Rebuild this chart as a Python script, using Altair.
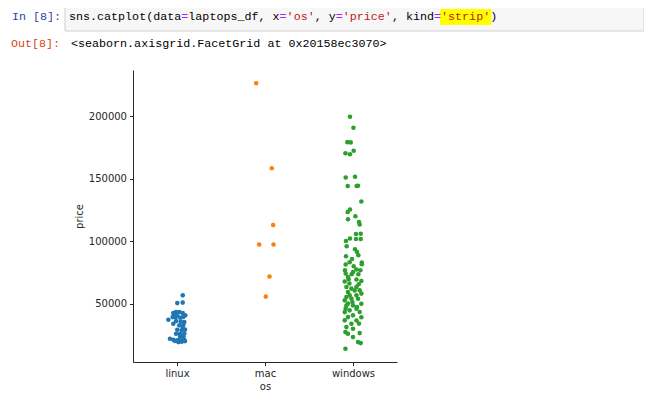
import altair as alt
import pandas as pd

# ---------------- data ----------------
OS_ORDER = ["linux", "mac", "windows"]
OS_COLORS = ["#1f77b4", "#ff7f0e", "#2ca02c"]

linux_price = [56700, 50500, 50900, 42500, 43300, 43300, 42500, 40700, 39300, 39300,
               39000, 39500, 37200, 36100, 35900, 34000, 32700, 33200, 29200, 28700,
               29300, 26000, 25800, 26200, 22000, 21200, 20700, 20600, 21300, 19300,
               19600, 20100, 20200, 23300, 23900, 31300, 40600, 35300]
linux_jitter = [0.065, 0.003, 0.065, -0.042, -0.011, 0.026, 0.065, 0.094, -0.049, -0.015,
                0.034, 0.072, -0.098, -0.011, 0.042, -0.042, 0.026, 0.072, 0.003, 0.053,
                0.091, -0.011, 0.034, 0.083, -0.080, -0.042, 0.003, 0.042, 0.080, 0.015,
                0.053, 0.091, -0.023, 0.034, 0.072, 0.065, -0.003, 0.083]

mac_price = [226300, 158400, 113000, 97300, 97300, 71700, 55700]
mac_jitter = [-0.100, 0.077, 0.093, -0.066, 0.097, 0.051, 0.009]

windows_price = [199500, 190700, 179200, 179000, 170400, 169600, 172300, 151000, 151500, 144200,
                 144100, 144300, 131700, 125300, 123400, 120000, 117600, 115400, 113300, 105800,
                 105900, 101800, 101700, 100200, 102100, 93500, 91400, 87900, 85800, 88700,
                 82900, 81500, 81300, 76700, 74100, 75400, 77300, 76800, 73500, 73600,
                 71400, 67700, 66100, 69300, 68200, 63400, 62100, 63300, 60700, 59300,
                 55300, 54100, 56700, 58100, 50100, 48700, 46100, 46000, 60600, 56800,
                 52700, 51300, 54000, 48600, 47300, 50000, 44700, 43300, 43400, 40700,
                 39300, 39200, 36700, 36600, 34000, 31300, 34100, 30000, 26000, 27300,
                 26500, 19300, 18500, 14000, 23300, 83100, 79900, 69500, 65500, 95900]
windows_jitter = [-0.034, 0.005, -0.064, -0.026, -0.086, -0.034, 0.008, -0.083, 0.023, -0.060,
                  0.042, 0.057, 0.095, -0.034, -0.060, 0.027, -0.057, 0.068, 0.076, 0.034,
                  0.088, 0.034, 0.088, -0.080, -0.034, 0.023, 0.045, -0.080, -0.011, 0.061,
                  0.100, 0.100, -0.083, -0.091, -0.083, 0.000, 0.039, 0.084, -0.015, 0.061,
                  -0.057, -0.094, -0.041, 0.039, 0.095, -0.075, -0.018, 0.039, 0.076, -0.057,
                  -0.075, -0.018, 0.039, 0.095, -0.057, 0.000, -0.083, 0.039, 0.019, -0.038,
                  -0.094, -0.007, 0.057, -0.075, 0.045, 0.095, -0.038, -0.094, 0.076, 0.000,
                  -0.057, 0.095, -0.094, 0.039, -0.018, -0.075, 0.068, 0.000, -0.057, -0.086,
                  0.076, 0.057, 0.088, -0.086, 0.000, -0.038, 0.008, -0.049, 0.065, -0.072]

Y_TICKS = [50000, 100000, 150000, 200000]

# notebook cell texts
IN_PROMPT = "In [8]:"
OUT_PROMPT = "Out[8]:"
OUT_TEXT = "<seaborn.axisgrid.FacetGrid at 0x20158ec3070>"
CODE_SEGMENTS = [
    ("sns.catplot(data", "#000000"), ("=", "#AA22FF"), ("laptops_df, x", "#000000"),
    ("=", "#AA22FF"), ("'os'", "#BA2121"), (", y", "#000000"), ("=", "#AA22FF"),
    ("'price'", "#BA2121"), (", kind", "#000000"), ("=", "#AA22FF"),
    ("'strip'", "#BA2121"), (")", "#000000"),
]

# ---------------- build table ----------------
rows = []
for name, prices, jit in [("linux", linux_price, linux_jitter),
                          ("mac", mac_price, mac_jitter),
                          ("windows", windows_price, windows_jitter)]:
    for p, j in zip(prices, jit):
        rows.append({"os": name, "price": p, "jitter": j})
df = pd.DataFrame(rows)

all_prices = linux_price + mac_price + windows_price
lo, hi = min(all_prices), max(all_prices)
margin = 0.05 * (hi - lo)

W, H = 264, 292
PAD = {"left": 125, "top": 62, "right": 247, "bottom": 37}

order_js = "['" + "','".join(OS_ORDER) + "']"

points = alt.Chart(df).transform_calculate(
    xpos="indexof(" + order_js + ", datum.os) + datum.jitter"
).mark_circle(size=21, opacity=1).encode(
    x=alt.X("xpos:Q",
            scale=alt.Scale(domain=[-0.5, len(OS_ORDER) - 0.5], nice=False, zero=False),
            axis=alt.Axis(values=list(range(len(OS_ORDER))),
                          labelExpr=order_js + "[datum.value]",
                          title="os", grid=False, titlePadding=3)),
    y=alt.Y("price:Q",
            scale=alt.Scale(domain=[lo - margin, hi + margin], nice=False, zero=False),
            axis=alt.Axis(values=Y_TICKS, format="d", title="price", grid=False,
                          titlePadding=4)),
    color=alt.Color("os:N", scale=alt.Scale(domain=OS_ORDER, range=OS_COLORS), legend=None),
)

anchor = pd.DataFrame({"k": [0]})
MONO = "Liberation Mono"
FS = 11.7
CW = FS * 0.6


def label(text, x, y, color):
    return alt.Chart(anchor).mark_text(
        text=text, align="left", baseline="middle", font=MONO, fontSize=FS, color=color
    ).encode(x=alt.value(x), y=alt.value(y))


code_box = alt.Chart(anchor).mark_rect(fill="#f7f7f7", stroke="#cfcfcf", strokeWidth=1).encode(
    x=alt.value(-68), x2=alt.value(511), y=alt.value(-67), y2=alt.value(-39))

code_x0 = -64
layers = [code_box]
pos = 0
for seg, col in CODE_SEGMENTS:
    if seg == "'strip'":
        layers.append(alt.Chart(anchor).mark_rect(fill="#ffff00").encode(
            x=alt.value(code_x0 + pos * CW - 1), x2=alt.value(code_x0 + (pos + len(seg)) * CW + 1),
            y=alt.value(-61), y2=alt.value(-45)))
    pos += len(seg)
pos = 0
for seg, col in CODE_SEGMENTS:
    layers.append(label(seg, code_x0 + pos * CW, -54, col))
    pos += len(seg)

layers.append(label(IN_PROMPT, -121, -54, "#303F9F"))
layers.append(label(OUT_PROMPT, -122, -27, "#D84315"))
layers.append(label(OUT_TEXT, -62, -27, "#000000"))
layers.append(points)

chart = alt.layer(*layers).properties(
    width=W, height=H, padding=PAD, autosize=alt.AutoSizeParams(type="none")
).configure_view(stroke=None).configure_axis(
    labelFont="DejaVu Sans", labelFontSize=10, labelColor="#262626",
    titleFont="DejaVu Sans", titleFontSize=10, titleFontWeight="normal", titleColor="#262626",
    domainColor="#262626", tickColor="#262626", tickSize=3.5, labelPadding=3,
    domainWidth=1, tickWidth=1,
)

chart.save("out.html", embed_options={"renderer": "svg", "actions": False})
